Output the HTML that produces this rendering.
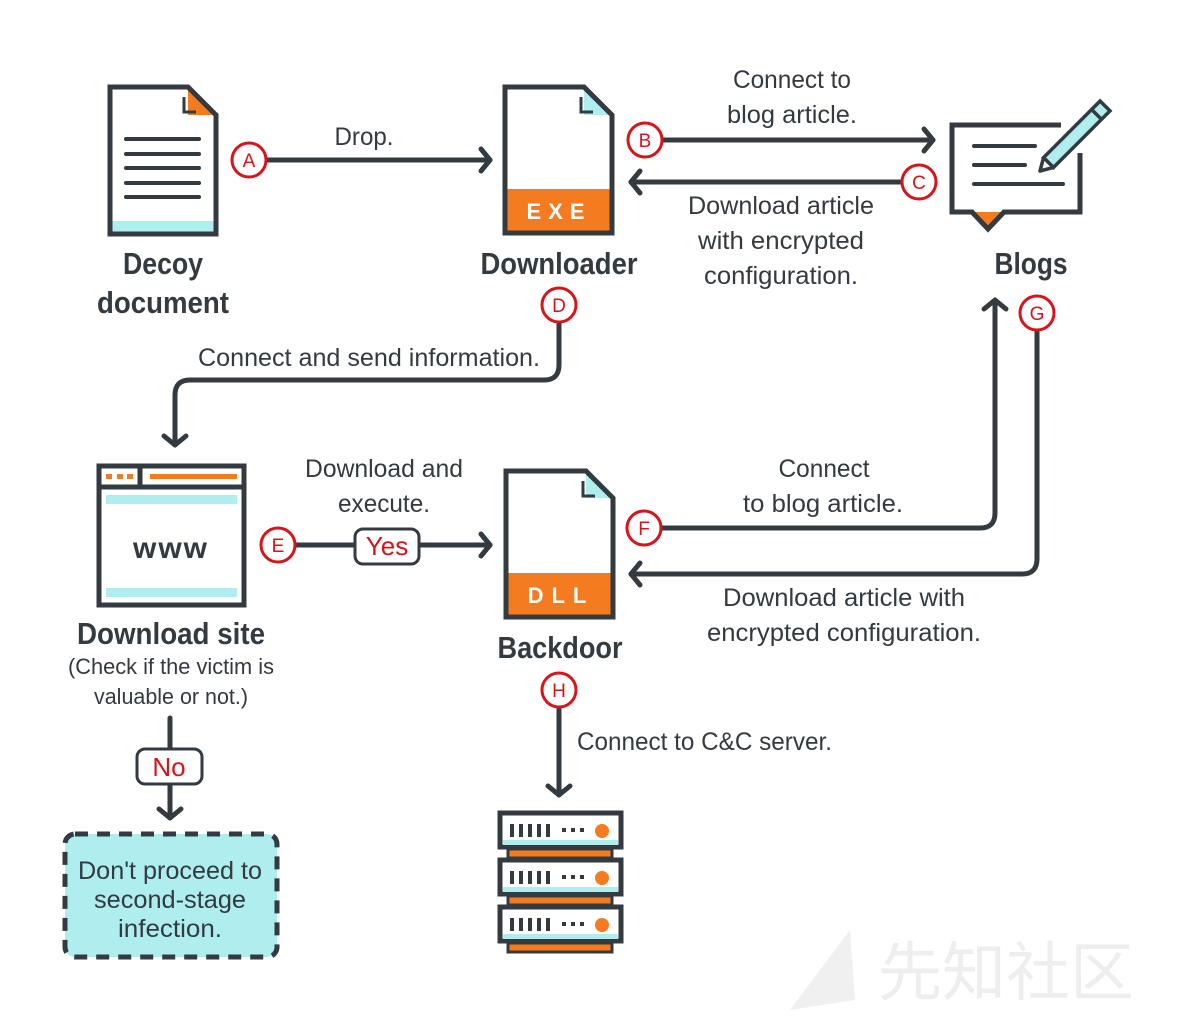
<!DOCTYPE html>
<html><head><meta charset="utf-8"><style>
html,body{margin:0;padding:0;background:#fff;}
svg{display:block;}
text{font-family:"Liberation Sans Narrow","Liberation Sans",sans-serif;fill:#333a40;}
.b{font-weight:bold;font-size:31px;}
.n{font-size:25px;}
.s{font-size:22px;}
.lab{font-family:"Liberation Sans Narrow","Liberation Sans",sans-serif;font-size:19px;fill:#d7141a;}
</style></head><body>
<svg width="1177" height="1019" viewBox="0 0 1177 1019" xmlns="http://www.w3.org/2000/svg">
<defs>
<g id="arr"><polyline points="-9,-11 0,0 -9,11" fill="none" stroke="#333a40" stroke-width="5" stroke-linecap="round" stroke-linejoin="round"/></g>
</defs>
<!-- watermark -->
<text x="878" y="995" style="font-family:'Noto Sans CJK SC',sans-serif;font-size:64px;fill:#eeeeee">先知社区</text>
<polygon points="790,1010 850,930 855,1000" fill="#f0f0f0"/>

<g fill="none" stroke="#333a40" stroke-width="5" stroke-linecap="round" stroke-linejoin="round">
<!-- A line -->
<line x1="267" y1="160" x2="490" y2="160"/>
<!-- B line -->
<line x1="663" y1="140" x2="933" y2="140"/>
<!-- C line -->
<line x1="901" y1="182" x2="631" y2="182"/>
<!-- D path -->
<path d="M559,323 V365 Q559,380 544,380 H190 Q175,380 175,395 V445"/>
<!-- E line -->
<line x1="296" y1="545" x2="490" y2="545"/>
<!-- F path -->
<path d="M662,528 H980 Q995,528 995,513 V302"/>
<!-- G path -->
<path d="M1037,331 V559 Q1037,574 1022,574 H631"/>
<!-- H line -->
<line x1="559" y1="708" x2="559" y2="795"/>
<!-- No line -->
<line x1="170" y1="718" x2="170" y2="818"/>
</g>
<use href="#arr" transform="translate(490,160)"/>
<use href="#arr" transform="translate(933,140)"/>
<use href="#arr" transform="translate(631,182) rotate(180)"/>
<use href="#arr" transform="translate(175,445) rotate(90)"/>
<use href="#arr" transform="translate(490,545)"/>
<use href="#arr" transform="translate(995,300) rotate(-90)"/>
<use href="#arr" transform="translate(631,574) rotate(180)"/>
<use href="#arr" transform="translate(559,795) rotate(90)"/>
<use href="#arr" transform="translate(170,818) rotate(90)"/>

<!-- Decoy doc -->
<polygon points="188,87 216,115 188,115" fill="#f47b20"/>
<rect x="111" y="221" width="104" height="11" fill="#aeeeee"/>
<path d="M110,87 H188 L216,115 V234 H110 Z" fill="none" stroke="#333a40" stroke-width="5" stroke-linejoin="miter"/>
<path d="M184,97 V112 H196" fill="none" stroke="#333a40" stroke-width="3"/>
<g stroke="#333a40" stroke-width="4" stroke-linecap="round">
<line x1="126" y1="139" x2="199" y2="139"/><line x1="126" y1="154" x2="199" y2="154"/>
<line x1="126" y1="168" x2="199" y2="168"/><line x1="126" y1="183" x2="199" y2="183"/>
<line x1="126" y1="197" x2="199" y2="197"/></g>

<!-- Downloader -->
<polygon points="584,87 612,115 584,115" fill="#aeeeee"/>
<rect x="505" y="189" width="108" height="44" fill="#f47b20"/>
<path d="M505,87 H584 L612,115 V233 H505 Z" fill="none" stroke="#333a40" stroke-width="5"/>
<path d="M581,97 V112 H593" fill="none" stroke="#333a40" stroke-width="3"/>
<text x="559" y="219" text-anchor="middle" style="font-family:'Liberation Sans',sans-serif;font-weight:bold;font-size:22px;fill:#fff;letter-spacing:7px">EXE</text>

<!-- Backdoor -->
<polygon points="586,471 613,498 586,498" fill="#aeeeee"/>
<rect x="506" y="573" width="108" height="44" fill="#f47b20"/>
<path d="M506,471 H586 L613,498 V617 H506 Z" fill="none" stroke="#333a40" stroke-width="5"/>
<path d="M583,481 V496 H595" fill="none" stroke="#333a40" stroke-width="3"/>
<text x="561" y="603" text-anchor="middle" style="font-family:'Liberation Sans',sans-serif;font-weight:bold;font-size:22px;fill:#fff;letter-spacing:8px">DLL</text>

<!-- Blogs -->
<polygon points="972,212 1004,212 988,228" fill="#f47b20"/>
<path d="M1061,125 H952 V212 H972 L988,229 L1004,212 H1080 V153" fill="none" stroke="#333a40" stroke-width="5" stroke-linejoin="miter"/>
<g stroke="#333a40" stroke-width="4" stroke-linecap="round">
<line x1="974" y1="146" x2="1035" y2="146"/><line x1="974" y1="165" x2="1025" y2="165"/><line x1="974" y1="184" x2="1063" y2="184"/></g>
<g transform="translate(1040,171) rotate(-45)">
<rect x="12" y="-7" width="80" height="14" fill="#aeeeee" stroke="#333a40" stroke-width="3.5"/>
<line x1="80" y1="-7" x2="80" y2="7" stroke="#333a40" stroke-width="3.5"/>
<polygon points="12,-7 0,0 12,7" fill="#fff" stroke="#333a40" stroke-width="3.5" stroke-linejoin="round"/>
</g>

<!-- Browser -->
<rect x="99" y="466" width="145" height="139" fill="#fff" stroke="#333a40" stroke-width="5"/>
<line x1="99" y1="487" x2="244" y2="487" stroke="#333a40" stroke-width="5"/>
<line x1="140" y1="466" x2="140" y2="487" stroke="#333a40" stroke-width="5"/>
<rect x="106" y="474" width="6" height="5" fill="#f47b20"/><rect x="117" y="474" width="6" height="5" fill="#f47b20"/><rect x="127" y="474" width="6" height="5" fill="#f47b20"/>
<rect x="150" y="474" width="87" height="5" fill="#f47b20"/>
<rect x="106" y="495" width="131" height="9" fill="#aeeeee"/>
<rect x="106" y="588" width="131" height="9" fill="#aeeeee"/>
<text x="171" y="558" text-anchor="middle" style="font-family:'Liberation Sans',sans-serif;font-weight:bold;font-size:30px;letter-spacing:2px">www</text>

<!-- Server -->
<g>
<rect x="508" y="849" width="104" height="9" fill="#f47b20" stroke="#333a40" stroke-width="3"/>
<rect x="508" y="896" width="104" height="9" fill="#f47b20" stroke="#333a40" stroke-width="3"/>
<rect x="508" y="943" width="104" height="9" fill="#f47b20" stroke="#333a40" stroke-width="3"/>
<g id="unit">
<rect x="500" y="813" width="121" height="34" fill="#fff" stroke="#333a40" stroke-width="5"/>
<rect x="503" y="840" width="115" height="5" fill="#aeeeee"/>
<g fill="#333a40"><rect x="510" y="824" width="4" height="13"/><rect x="519" y="824" width="4" height="13"/><rect x="528" y="824" width="4" height="13"/><rect x="537" y="824" width="4" height="13"/><rect x="546" y="824" width="4" height="13"/>
<rect x="562" y="828" width="4" height="4"/><rect x="571" y="828" width="4" height="4"/><rect x="580" y="828" width="4" height="4"/></g>
<circle cx="602" cy="831" r="7" fill="#f47b20"/>
</g>
<use href="#unit" transform="translate(0,47)"/>
<use href="#unit" transform="translate(0,94)"/>
</g>

<!-- Yes / No boxes -->
<rect x="355" y="529" width="64" height="35" rx="8" fill="#fff" stroke="#333a40" stroke-width="3"/>
<text x="387" y="555" text-anchor="middle" style="font-family:'Liberation Sans Narrow','Liberation Sans',sans-serif;font-size:26px;fill:#d7141a">Yes</text>
<rect x="137" y="749" width="65" height="35" rx="8" fill="#fff" stroke="#333a40" stroke-width="3"/>
<text x="169" y="776" text-anchor="middle" style="font-family:'Liberation Sans Narrow','Liberation Sans',sans-serif;font-size:26px;fill:#d7141a">No</text>

<!-- dashed box -->
<rect x="65" y="834" width="212" height="123" rx="10" fill="#aeeeee" stroke="#333a40" stroke-width="5" stroke-dasharray="13,9"/>
<text x="170" y="879" text-anchor="middle" class="n" textLength="184" lengthAdjust="spacingAndGlyphs">Don't proceed to</text>
<text x="170" y="908" text-anchor="middle" class="n" textLength="152" lengthAdjust="spacingAndGlyphs">second-stage</text>
<text x="170" y="937" text-anchor="middle" class="n" textLength="104" lengthAdjust="spacingAndGlyphs">infection.</text>

<!-- circles -->
<g fill="#fff" stroke="#d7141a" stroke-width="3">
<circle cx="249" cy="160" r="17"/><circle cx="645" cy="140" r="17"/><circle cx="919" cy="182" r="17"/>
<circle cx="559" cy="305" r="17"/><circle cx="278" cy="545" r="17"/><circle cx="644" cy="528" r="17"/>
<circle cx="1037" cy="313" r="17"/><circle cx="559" cy="690" r="17"/></g>
<g class="lab" text-anchor="middle">
<text x="249" y="167" class="lab">A</text><text x="645" y="147" class="lab">B</text><text x="919" y="189" class="lab">C</text>
<text x="559" y="312" class="lab">D</text><text x="278" y="552" class="lab">E</text><text x="644" y="535" class="lab">F</text>
<text x="1037" y="320" class="lab">G</text><text x="559" y="697" class="lab">H</text></g>

<!-- labels -->
<text x="163" y="274" text-anchor="middle" class="b" textLength="80" lengthAdjust="spacingAndGlyphs">Decoy</text>
<text x="163" y="313" text-anchor="middle" class="b" textLength="132" lengthAdjust="spacingAndGlyphs">document</text>
<text x="559" y="274" text-anchor="middle" class="b" textLength="157" lengthAdjust="spacingAndGlyphs">Downloader</text>
<text x="1031" y="274" text-anchor="middle" class="b" textLength="73" lengthAdjust="spacingAndGlyphs">Blogs</text>
<text x="171" y="644" text-anchor="middle" class="b" textLength="188" lengthAdjust="spacingAndGlyphs">Download site</text>
<text x="560" y="658" text-anchor="middle" class="b" textLength="125" lengthAdjust="spacingAndGlyphs">Backdoor</text>
<text x="171" y="674" text-anchor="middle" class="s" textLength="206" lengthAdjust="spacingAndGlyphs">(Check if the victim is</text>
<text x="171" y="704" text-anchor="middle" class="s" textLength="154" lengthAdjust="spacingAndGlyphs">valuable or not.)</text>

<text x="364" y="145" text-anchor="middle" class="n" textLength="59" lengthAdjust="spacingAndGlyphs">Drop.</text>
<text x="792" y="88" text-anchor="middle" class="n" textLength="118" lengthAdjust="spacingAndGlyphs">Connect to</text>
<text x="792" y="123" text-anchor="middle" class="n" textLength="130" lengthAdjust="spacingAndGlyphs">blog article.</text>
<text x="781" y="214" text-anchor="middle" class="n" textLength="186" lengthAdjust="spacingAndGlyphs">Download article</text>
<text x="781" y="249" text-anchor="middle" class="n" textLength="166" lengthAdjust="spacingAndGlyphs">with encrypted</text>
<text x="781" y="284" text-anchor="middle" class="n" textLength="154" lengthAdjust="spacingAndGlyphs">configuration.</text>
<text x="369" y="366" text-anchor="middle" class="n" textLength="342" lengthAdjust="spacingAndGlyphs">Connect and send information.</text>
<text x="384" y="477" text-anchor="middle" class="n" textLength="158" lengthAdjust="spacingAndGlyphs">Download and</text>
<text x="384" y="512" text-anchor="middle" class="n" textLength="92" lengthAdjust="spacingAndGlyphs">execute.</text>
<text x="824" y="477" text-anchor="middle" class="n" textLength="91" lengthAdjust="spacingAndGlyphs">Connect</text>
<text x="823" y="512" text-anchor="middle" class="n" textLength="160" lengthAdjust="spacingAndGlyphs">to blog article.</text>
<text x="844" y="606" text-anchor="middle" class="n" textLength="242" lengthAdjust="spacingAndGlyphs">Download article with</text>
<text x="844" y="641" text-anchor="middle" class="n" textLength="274" lengthAdjust="spacingAndGlyphs">encrypted configuration.</text>
<text x="577" y="750" class="n" textLength="255" lengthAdjust="spacingAndGlyphs">Connect to C&amp;C server.</text>
</svg>
</body></html>
